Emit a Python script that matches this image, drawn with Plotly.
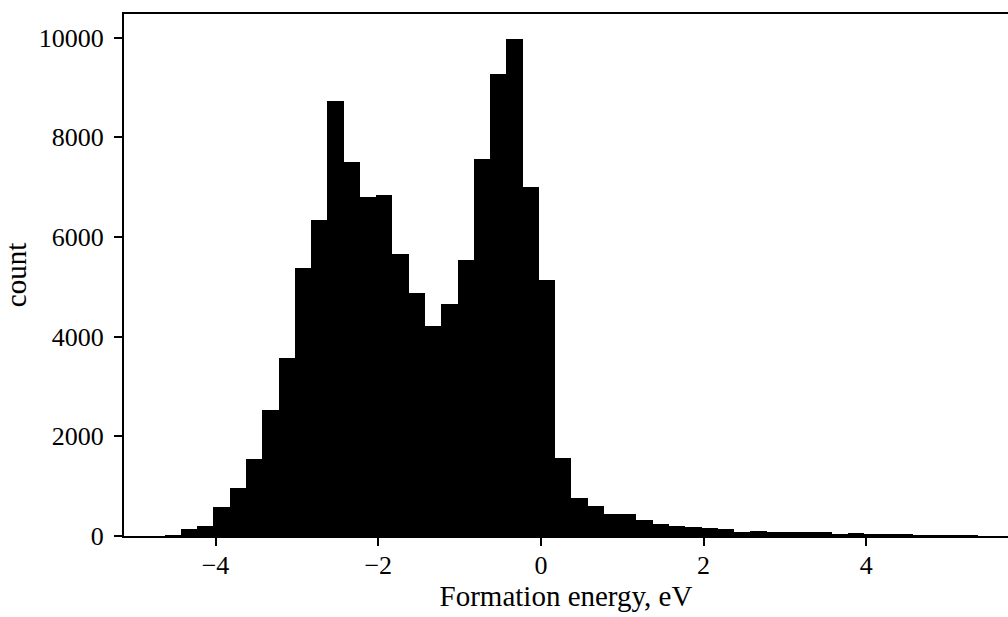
import plotly.graph_objects as go

# Histogram of formation energies (eV): 50 equal bins
bin_start = -4.625
bin_width = 0.2
counts = [20, 144, 205, 586, 967, 1549, 2532, 3575, 5386, 6343,
          8728, 7506, 6804, 6844, 5661, 4879, 4217, 4658, 5541, 7565,
          9272, 9973, 7000, 5140, 1569, 766, 606, 445, 445, 325,
          245, 205, 185, 165, 150, 90, 104, 84, 84, 84,
          80, 44, 64, 44, 44, 40, 18, 15, 12, 6]
x_ticks = [-4, -2, 0, 2, 4]
y_ticks = [0, 2000, 4000, 6000, 8000, 10000]
y_tick_labels = ["0", "2000", "4000", "6000", "8000", "10000"]

centers = [bin_start + bin_width * (i + 0.5) for i in range(len(counts))]

fig = go.Figure(go.Bar(x=centers, y=counts, width=bin_width,
                       marker=dict(color="black", line=dict(width=0))))

tick_font = dict(family="Liberation Serif", size=26, color="black")
title_font = dict(family="Liberation Serif", size=29, color="black")
fig.update_layout(
    width=1008, height=617,
    margin=dict(l=124, r=0, t=14, b=81),
    paper_bgcolor="white", plot_bgcolor="white",
    font=tick_font, showlegend=False, bargap=0,
)
fig.update_xaxes(
    range=[-5.125, 5.742], tickvals=x_ticks, ticks="outside", ticklen=8, tickwidth=2,
    tickcolor="black", showline=True, linewidth=2, linecolor="black", mirror=True,
    showgrid=False, zeroline=False, automargin=False, tickfont=tick_font,
    ticklabelstandoff=-3,
    title=dict(text="Formation energy, eV", font=title_font, standoff=6),
)
fig.update_yaxes(
    range=[0, 10476], tickvals=y_ticks, ticktext=y_tick_labels, ticks="outside",
    ticklen=8, tickwidth=2,
    tickcolor="black", showline=True, linewidth=2, linecolor="black", mirror=False,
    showgrid=False, zeroline=False, automargin=False, tickfont=tick_font,
    ticklabelstandoff=5,
    title=dict(text="count", font=title_font, standoff=12),
)
fig.write_html("out.html")
